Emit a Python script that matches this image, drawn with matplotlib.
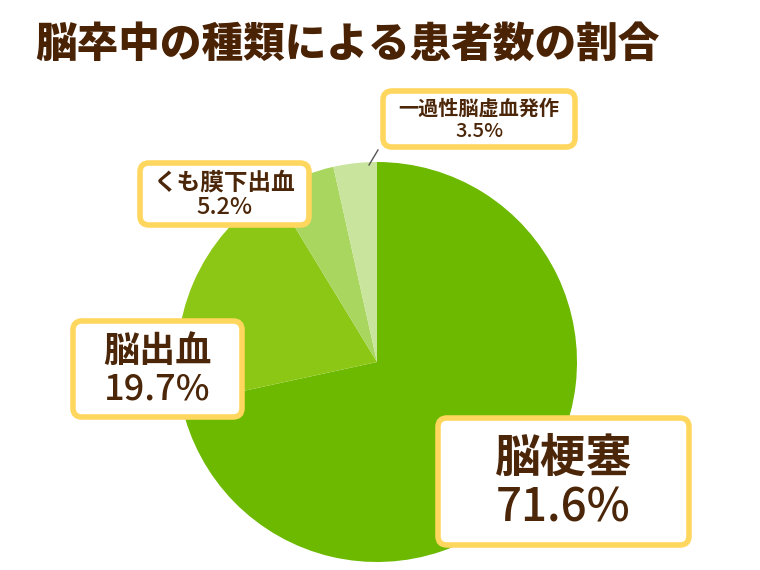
import matplotlib
matplotlib.use("Agg")
import matplotlib.pyplot as plt
from matplotlib.patches import FancyBboxPatch

plt.rcParams['font.family'] = ['Noto Sans CJK JP', 'DejaVu Sans']

title = "脳卒中の種類による患者数の割合"
labels = ["脳梗塞", "脳出血", "くも膜下出血", "一過性脳虚血発作"]
values = [71.6, 19.7, 5.2, 3.5]
colors = ["#6cb900", "#8cc716", "#a9d65f", "#c9e49c"]

brown = "#4b2608"
border = "#ffd75e"

W, H = 760, 570
fig = plt.figure(figsize=(7.6, 5.7), dpi=100)
ax = fig.add_axes([0, 0, 1, 1])

# pie, clockwise from 12 o'clock
ax.pie(values, colors=colors, startangle=90, counterclock=False,
       center=(377, H - 362), radius=200, wedgeprops=dict(linewidth=0))
ax.set_xlim(0, W)
ax.set_ylim(0, H)
ax.set_aspect('equal')
ax.axis('off')

# label boxes (image pixel layout): x0, y0, x1, y1, name size, pct size
boxes = {
    "脳梗塞": (435, 415, 692, 548, 33, 33),
    "脳出血": (70, 318, 245, 420, 26, 26),
    "くも膜下出血": (137, 160, 312, 228, 17, 17),
    "一過性脳虚血発作": (380, 88, 578, 150, 14.5, 14.5),
}

# leader line for the small slice
ax.plot([378, 369], [H - 150, H - 165], color="#555555", lw=1, zorder=3)

for name, v in zip(labels, values):
    x0, y0, x1, y1, fs1, fs2 = boxes[name]
    p = FancyBboxPatch((x0 + 3, H - y1 + 3), x1 - x0 - 6, y1 - y0 - 6,
                       boxstyle="round,pad=0,rounding_size=9",
                       fc="white", ec=border, lw=4, zorder=4)
    ax.add_patch(p)
    cx = (x0 + x1) / 2
    h = y1 - y0
    ax.text(cx, H - (y0 + h * 0.33), name, ha='center', va='center',
            fontsize=fs1, fontweight='bold', color=brown, zorder=5)
    ax.text(cx, H - (y0 + h * 0.70), f"{v}%", ha='center', va='center',
            fontsize=fs2, fontweight='medium', color=brown, zorder=5)

fig.text(35 / W, 1 - 45 / H, title, ha='left', va='center',
         fontsize=30, fontweight='heavy', color="#4a2204")

fig.savefig("out.png", dpi=100)
